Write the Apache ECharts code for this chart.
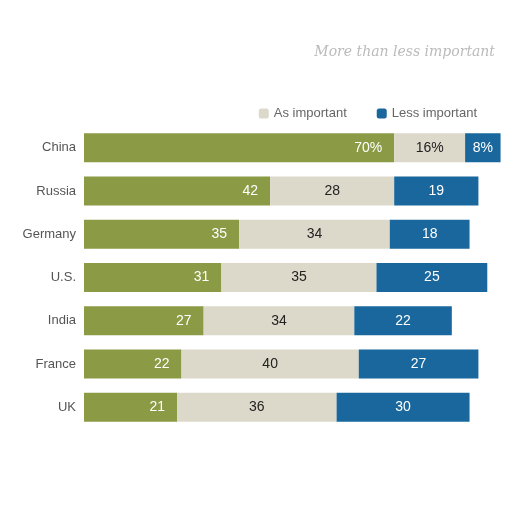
<!DOCTYPE html>
<html><head><meta charset="utf-8">
<script src="https://cdn.jsdelivr.net/npm/echarts@6/dist/echarts.min.js"></script>
<style>html,body{margin:0;padding:0;background:#fff}#c{width:512px;height:512px}</style>
</head><body><div id="c"></div>
<script>
const countries = ['China','Russia','Germany','U.S.','India','France','UK'];
const moreImportant = [70,42,35,31,27,22,21];
const asImportant = [16,28,34,35,34,40,36];
const lessImportant = [8,19,18,25,22,27,30];

const chart = echarts.init(document.getElementById('c'));
const fmt = p => p.dataIndex === 0 ? p.value + '%' : String(p.value);
function series(name, data, color, textColor){
  return {
    name, type:'bar', stack:'all', data, barWidth:29,
    itemStyle:{color},
    label:{show:true, position: name==='More important' ? 'insideRight' : 'inside',
      distance: 12, color:textColor, fontSize:14, fontFamily:'Liberation Sans, Arial', formatter:fmt},
    emphasis:{disabled:true}
  };
}
chart.setOption({
  animation:false,
  title:{text:'More than less important', right:12, top:40,
    textStyle:{fontFamily:'DejaVu Serif, serif', fontStyle:'italic', fontWeight:'normal', fontSize:14, color:'#bbb'}},
  legend:{data:['As important','Less important'], right:30, top:102, itemWidth:10, itemHeight:10, itemGap:30,
    textStyle:{fontFamily:'Liberation Sans, Arial', fontSize:13, color:'#666'}},
  grid:{left:84, right:7, top:126, bottom:83, containLabel:false},
  xAxis:{type:'value', min:0, max:95, show:false},
  yAxis:{type:'category', data:countries, inverse:true,
    axisLine:{show:false}, axisTick:{show:false},
    axisLabel:{color:'#555', fontSize:13, fontFamily:'Liberation Sans, Arial', margin:8}},
  series:[
    series('More important', moreImportant, '#8b9a45', '#fff'),
    series('As important', asImportant, '#dcd9ca', '#222'),
    series('Less important', lessImportant, '#19679c', '#fff')
  ]
});
</script></body></html>
